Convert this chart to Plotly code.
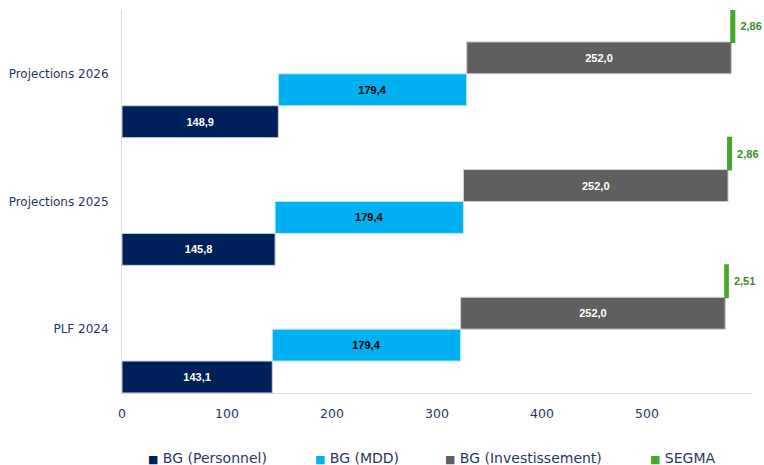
import plotly.graph_objects as go

categories = ["PLF 2024", "Projections 2025", "Projections 2026"]
series_names = ["BG (Personnel)", "BG (MDD)", "BG (Investissement)", "SEGMA"]
personnel = [143.1, 145.8, 148.9]
mdd = [179.4, 179.4, 179.4]
invest = [252.0, 252.0, 252.0]
segma = [2.51, 2.86, 2.86]
x_ticks = [0, 100, 200, 300, 400, 500]

series = [personnel, mdd, invest, segma]
colors = ["#00205B", "#00B0F0", "#5F5F5F", "#45A82A"]
text_colors = ["white", "black", "white", "#3E8E2A"]
formats = ["%{x:.1f}", "%{x:.1f}", "%{x:.1f}", "\u00a0%{x:.2f}"]
offsets = [-0.375, -0.125, 0.125, 0.375]
line_colors = ["#C8CDD8", "#BFE8FA", "#D0D0D0", "#45A82A"]
line_widths = [1, 1, 1, 2]
legend_x = [146, 313, 443, 648]

fig = go.Figure()
bases = [0.0] * len(categories)
for k, (name, vals) in enumerate(zip(series_names, series)):
    ypos = [i + offsets[k] for i in range(len(categories))]
    fig.add_trace(go.Bar(
        name=name,
        orientation="h",
        y=ypos,
        x=vals,
        base=list(bases),
        width=0.25,
        marker=dict(color=colors[k], line=dict(color=line_colors[k], width=line_widths[k])),
        texttemplate=formats[k],
        textposition="outside" if k == 3 else "inside",
        insidetextanchor="middle",
        textfont=dict(family="Liberation Sans, Arial", size=11, color=text_colors[k], weight="bold"),
        outsidetextfont=dict(family="Liberation Sans, Arial", size=11, color=text_colors[k], weight="bold"),
        cliponaxis=False,
        hoverinfo="skip",
        showlegend=False,
    ))
    bases = [b + v for b, v in zip(bases, vals)]

# legend drawn as text annotations
for k, name in enumerate(series_names):
    fig.add_annotation(
        xref="paper", yref="paper",
        x=(legend_x[k] - 122) / 630.0, y=-(458 - 393) / 383.0,
        xanchor="left", yanchor="middle", showarrow=False,
        text=f'<span style="color:{colors[k]};font-size:11px">■</span> {name}',
        font=dict(family="DejaVu Sans", size=14, color="#1F3864"),
    )

fig.update_layout(
    width=764, height=465,
    margin=dict(l=122, r=12, t=10, b=72, autoexpand=False),
    plot_bgcolor="white", paper_bgcolor="white",
    separators=", ",
    showlegend=False,
    barmode="overlay",
    font=dict(family="DejaVu Sans", size=12, color="#1F3864"),
)
fig.update_xaxes(range=[0, 600], tickvals=x_ticks, ticktext=[str(t) for t in x_ticks],
                 showgrid=False, zeroline=False, showline=True, linecolor="#D9D9D9", linewidth=1,
                 ticks="", automargin=False, ticklabelstandoff=9,
                 tickfont=dict(family="DejaVu Sans", size=12.5, color="#1F3864"))
fig.update_yaxes(range=[-0.5, 2.5], tickvals=list(range(len(categories))), ticktext=categories,
                 showgrid=False, zeroline=False, showline=True, linecolor="#D9D9D9", linewidth=1,
                 ticks="", ticklabelstandoff=10, automargin=False,
                 tickfont=dict(family="DejaVu Sans", size=12, color="#1F3864"))

fig.write_html("out.html", config={"displayModeBar": False},
               post_script="document.body.style.margin='0';")
